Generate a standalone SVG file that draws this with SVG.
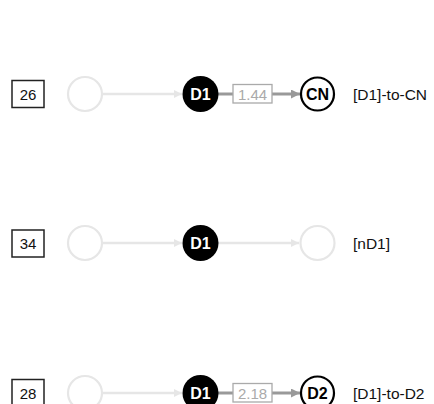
<svg xmlns="http://www.w3.org/2000/svg" width="434" height="404" viewBox="0 0 434 404">
  <style>
    .idbox { fill: #fff; stroke: #222; stroke-width: 1.5; }
    .idtxt { font-family: "Liberation Sans", Arial, sans-serif; font-size: 15px; fill: #111; text-anchor: middle; }
    .ghost { fill: #fff; stroke: #e6e6e6; stroke-width: 2.2; }
    .dark { fill: #000; }
    .open { fill: #fff; stroke: #000; stroke-width: 2.2; }
    .ntxtw { font-family: "Liberation Sans", Arial, sans-serif; font-size: 16px; font-weight: bold; fill: #fff; text-anchor: middle; }
    .ntxtb { font-family: "Liberation Sans", Arial, sans-serif; font-size: 16px; font-weight: bold; fill: #000; text-anchor: middle; }
    .lbl { font-family: "Liberation Sans", Arial, sans-serif; font-size: 15.5px; fill: #111; }
    .faint { stroke: #e6e6e6; stroke-width: 2.5; fill: none; }
    .strong { stroke: #999; stroke-width: 3; fill: none; }
    .wbox { fill: #fff; stroke: #aaa; stroke-width: 1.3; }
    .wtxt { font-family: "Liberation Sans", Arial, sans-serif; font-size: 15px; fill: #aaa; text-anchor: middle; }
  </style>
  <defs>
    <marker id="arrFaint" viewBox="0 0 10 10" refX="10" refY="5" markerWidth="10" markerHeight="8" markerUnits="userSpaceOnUse" orient="auto">
      <path d="M0,0 L10,5 L0,10 z" fill="#e6e6e6"/>
    </marker>
    <marker id="arrStrong" viewBox="0 0 10 10" refX="10" refY="5" markerWidth="12" markerHeight="9" markerUnits="userSpaceOnUse" orient="auto">
      <path d="M0,0 L10,5 L0,10 z" fill="#999"/>
    </marker>
  </defs>

  <!-- connectors -->
  <g id="connectors">
    <line class="faint" x1="102" y1="94" x2="182" y2="94" marker-end="url(#arrFaint)"/>
    <line class="strong" x1="218" y1="94" x2="300" y2="94" marker-end="url(#arrStrong)"/>
    <line class="faint" x1="102" y1="243" x2="182" y2="243" marker-end="url(#arrFaint)"/>
    <line class="faint" x1="218" y1="243" x2="299" y2="243" marker-end="url(#arrFaint)"/>
    <line class="faint" x1="102" y1="393" x2="182" y2="393" marker-end="url(#arrFaint)"/>
    <line class="strong" x1="218" y1="393" x2="300" y2="393" marker-end="url(#arrStrong)"/>
  </g>

  <!-- edge weights -->
  <g id="weight-1">
    <rect class="wbox" x="233" y="84.5" width="39" height="18.5"/>
    <text class="wtxt" x="252.5" y="99.5">1.44</text>
  </g>
  <g id="weight-3">
    <rect class="wbox" x="233" y="383.5" width="39" height="18.5"/>
    <text class="wtxt" x="252.5" y="398.5">2.18</text>
  </g>

  <!-- row 1 -->
  <g id="id-26">
    <rect class="idbox" x="12" y="80.5" width="32" height="27"/>
    <text class="idtxt" x="28" y="99.5">26</text>
  </g>
  <g id="r1-prev"><circle class="ghost" cx="85" cy="94" r="17"/></g>
  <g id="r1-d1">
    <circle class="dark" cx="200.5" cy="94" r="18"/>
    <text class="ntxtw" x="200.5" y="99.5">D1</text>
  </g>
  <g id="r1-cn">
    <circle class="open" cx="317.5" cy="94" r="16.5"/>
    <text class="ntxtb" x="317.5" y="99.5">CN</text>
  </g>
  <g id="r1-label"><text class="lbl" x="353" y="100">[D1]-to-CN</text></g>

  <!-- row 2 -->
  <g id="id-34">
    <rect class="idbox" x="12" y="230" width="32" height="27"/>
    <text class="idtxt" x="28" y="249">34</text>
  </g>
  <g id="r2-prev"><circle class="ghost" cx="85" cy="243" r="17"/></g>
  <g id="r2-d1">
    <circle class="dark" cx="200.5" cy="243" r="18"/>
    <text class="ntxtw" x="200.5" y="248.5">D1</text>
  </g>
  <g id="r2-next"><circle class="ghost" cx="317.5" cy="243" r="17"/></g>
  <g id="r2-label"><text class="lbl" x="353" y="249">[nD1]</text></g>

  <!-- row 3 -->
  <g id="id-28">
    <rect class="idbox" x="12" y="379.5" width="32" height="27"/>
    <text class="idtxt" x="28" y="398.5">28</text>
  </g>
  <g id="r3-prev"><circle class="ghost" cx="85" cy="393" r="17"/></g>
  <g id="r3-d1">
    <circle class="dark" cx="200.5" cy="393" r="18"/>
    <text class="ntxtw" x="200.5" y="398.5">D1</text>
  </g>
  <g id="r3-d2">
    <circle class="open" cx="317.5" cy="393" r="16.5"/>
    <text class="ntxtb" x="317.5" y="398.5">D2</text>
  </g>
  <g id="r3-label"><text class="lbl" x="353" y="399">[D1]-to-D2</text></g>
</svg>
